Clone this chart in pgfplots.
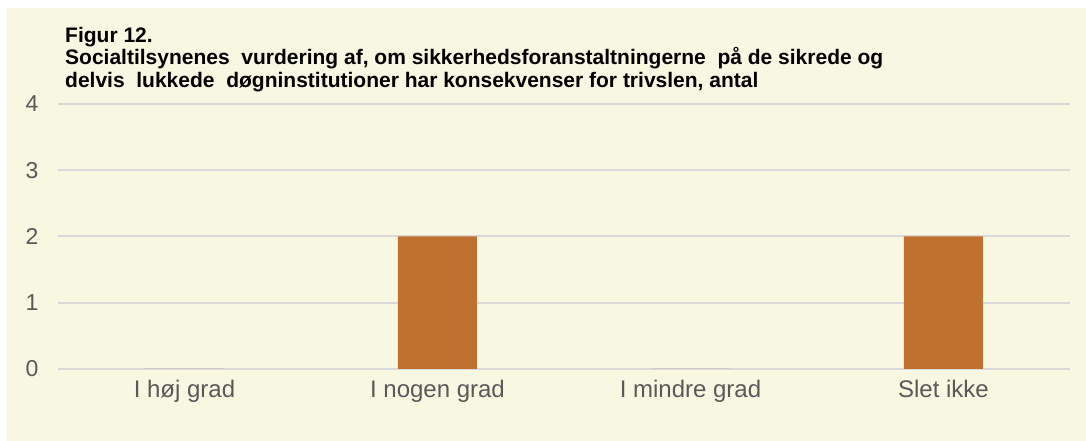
\documentclass[border=0pt]{standalone}
\usepackage{pgfplots}
\pgfplotsset{compat=1.18}
\usepackage{fontspec}
\setmainfont{Liberation Sans}
\definecolor{cream}{HTML}{F8F7E1}
\definecolor{barcol}{HTML}{C0702F}
\definecolor{gridcol}{HTML}{D9D9D9}
\definecolor{tickcol}{HTML}{595959}
\begin{document}
\begin{tikzpicture}[x=1pt,y=1pt]
\fill[white] (0,0) rectangle (1086,441);
\fill[cream] (7,0) rectangle (1086,433);
\node[anchor=north west,align=left,inner sep=0pt,font=\fontsize{21}{22.5}\selectfont\bfseries]
  at (65,414) {Figur 12.\\Socialtilsynenes\ \ vurdering af, om sikkerhedsforanstaltningerne\ \ på de sikrede og\\delvis\ \ lukkede\ \ døgninstitutioner har konsekvenser for trivslen, antal};
\begin{axis}[
  at={(58pt,72pt)}, anchor=south west,
  scale only axis,
  width=1012pt, height=265pt,
  ybar, bar width=79pt, bar shift=0pt,
  xmin=-0.5, xmax=3.5, ymin=0, ymax=4,
  xtick=data,
  xticklabels={I høj grad,I nogen grad,I mindre grad,Slet ikke},
  ytick={0,1,2,3,4},
  axis line style={draw=none},
  major tick length=0pt,
  ymajorgrids,
  grid style={draw=gridcol,line width=2pt},
  tick label style={text=tickcol},
  x tick label style={font=\fontsize{24}{27}\selectfont, yshift=-8pt},
  y tick label style={font=\fontsize{23}{26}\selectfont, xshift=-16pt},
  /pgf/number format/assume math mode=true,
  axis background/.style={fill=cream},
]
\addplot[fill=barcol, draw=none] coordinates {(0,0) (1,2) (2,0) (3,2)};
\end{axis}
\end{tikzpicture}
\end{document}
